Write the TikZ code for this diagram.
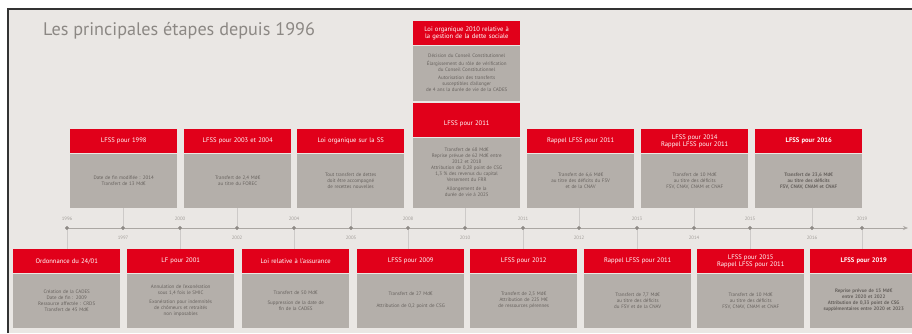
\documentclass[tikz,border=0pt]{standalone}
\usepackage{fontspec}
\setmainfont{PT Sans}
\usetikzlibrary{arrows.meta}
\definecolor{bg}{HTML}{EAE7E4}
\definecolor{cred}{HTML}{E1001A}
\definecolor{cbody}{HTML}{B4AFAA}
\definecolor{ctext}{HTML}{67625E}
\definecolor{cline}{HTML}{ABA7A3}
\definecolor{cdot}{HTML}{8E8A86}
\definecolor{cyear}{HTML}{A29E9A}
\definecolor{ctitle}{HTML}{8C8884}
\newcommand\hfont{\fontsize{6.6}{7.6}\selectfont}
\newcommand\bfont{\fontsize{5}{6}\selectfont}
\newcommand\tlbox[7]{%
  \node[hdr,minimum height=#4pt] (#1h) at (#2,#3) {#6};
  \node[bdy,minimum height=#5pt] (#1b) at (#1h.south west) {#7};}
\begin{document}
\begin{tikzpicture}[x=1pt,y=-1pt,
  hdr/.style={fill=cred,text=white,font=\hfont,align=center,inner sep=1pt,
    minimum width=107pt,text width=104pt,anchor=north west},
  bdy/.style={fill=cbody,text=ctext,font=\bfont,align=center,inner sep=1pt,
    minimum width=107pt,text width=104pt,anchor=north west},
  dotn/.style={circle,fill=cdot,inner sep=0pt,minimum size=3.6pt},
  yr/.style={text=cyear,font=\fontsize{4.8}{5}\selectfont,inner sep=0pt},
  guide/.style={draw=cline!60,line width=0.5pt},
  frame/.style={draw=black!80,line width=1.2pt}]
\useasboundingbox (0,0) rectangle (912,333);
\fill[white] (0,0) rectangle (912,333);
\fill[bg] (8,9) rectangle (912,333);
\draw[frame] (8,333) -- (8,9) -- (912,9);

\node[anchor=west,text=ctitle,font=\fontsize{18.2}{20}\selectfont,inner sep=0pt] (title) at (43,30.5) {Les principales étapes depuis 1996};

% timeline
\foreach \yy/\xx in {1996/67,2000/180,2004/294,2008/408,2011/523,2013/637,2015/750,2019/862}{
  \node[dotn] (d\yy) at (\xx,228) {};
  \coordinate (g\yy) at (\xx,249);
  \node[yr] (l\yy) at (\xx,219) {\yy};
  \draw[guide] (d\yy) -- (g\yy);
}
\foreach \yy/\xx in {1997/123,2002/237,2005/351,2010/465,2012/579,2014/694,2016/812}{
  \node[dotn] (d\yy) at (\xx,228) {};
  \coordinate (g\yy) at (\xx,207);
  \node[yr] (l\yy) at (\xx,237.5) {\yy};
  \draw[guide] (d\yy) -- (g\yy);
}
\coordinate (tlend) at (908,228);
\draw[cline,line width=0.7pt,-{Stealth[length=5pt,width=4pt]}] (d1996.center) -- (tlend);
\foreach \yy in {1996,1997,2000,2002,2004,2005,2008,2010,2011,2012,2013,2014,2015,2016,2019}{
  \fill[cdot] (d\yy) circle (1.8pt);
}

% top row
\tlbox{t1}{70}{129}{24}{54}{LFSS pour 1998}{Date de fin modifiée : 2014\\Transfert de 13 Md€}
\tlbox{t2}{184}{129}{24}{54}{LFSS pour 2003 et 2004}{Transfert de 2,4 Md€\\au titre du FOREC}
\tlbox{t3}{297}{129}{24}{54}{Loi organique sur la SS}{Tout transfert de dettes\\doit être accompagné\\de recettes nouvelles}
\tlbox{t0}{413}{21}{24}{55}{Loi organique 2010 relative à\\la gestion de la dette sociale}{Décision du Conseil Constitutionnel\\[2pt]Élargissement du rôle de vérification\\du Conseil Constitutionnel\\[2pt]Autorisation des transferts\\susceptibles d'allonger\\de 4 ans la durée de vie de la CADES}
\tlbox{t4}{413}{103}{34}{70}{\\[5pt]LFSS pour 2011}{Transfert de 68 Md€\\Reprise prévue de 62 Md€ entre\\2012 et 2018\\Attribution de 0,28 point de CSG\\1,3 \% des revenus du capital\\Versement du FRR\\[3pt]Allongement de la\\durée de vie à 2025}
\tlbox{t5}{527}{129}{24}{54}{Rappel LFSS pour 2011}{Transfert de 6,6 Md€\\au titre des déficits du FSV\\et de la CNAV}
\tlbox{t6}{641}{129}{24}{54}{LFSS pour 2014\\Rappel LFSS pour 2011}{Transfert de 10 Md€\\au titre des déficits\\FSV, CNAV, CNAM et CNAF}
\tlbox{t7}{755}{129}{24}{54}{\textbf{LFSS pour 2016}}{\textbf{Transfert de 23,6 Md€}\\\textbf{au titre des déficits}\\\textbf{FSV, CNAV, CNAM et CNAF}}

% bottom row
\tlbox{b1}{13}{249}{24}{54}{Ordonnance du 24/01}{Création de la CADES\\Date de fin : 2009\\Ressource affectée : CRDS\\Transfert de 45 Md€}
\tlbox{b2}{127}{249}{24}{54}{LF pour 2001}{Annulation de l'exonération\\sous 1,4 fois le SMIC\\[3pt]Exonération pour indemnités\\de chômeurs et retraités\\non imposables}
\tlbox{b3}{242}{249}{24}{54}{Loi relative à l'assurance}{Transfert de 50 Md€\\[4pt]Suppression de la date de\\fin de la CADES}
\tlbox{b4}{357}{249}{24}{54}{LFSS pour 2009}{Transfert de 27 Md€\\[6pt]Attribution de 0,2 point de CSG}
\tlbox{b5}{470}{249}{24}{54}{LFSS pour 2012}{Transfert de 2,5 Md€\\Attribution de 225 M€\\de ressources pérennes}
\tlbox{b6}{584}{249}{24}{54}{Rappel LFSS pour 2011}{Transfert de 7,7 Md€\\au titre des déficits\\du FSV et de la CNAV}
\tlbox{b7}{697}{249}{24}{54}{LFSS pour 2015\\Rappel LFSS pour 2011}{Transfert de 10 Md€\\au titre des déficits\\FSV, CNAV, CNAM et CNAF}
\tlbox{b8}{810}{249}{24}{54}{\textbf{LFSS pour 2019}}{\textbf{Reprise prévue de 15 Md€}\\\textbf{entre 2020 et 2022}\\\textbf{Attribution de 0,33 point de CSG}\\\textbf{supplémentaires entre 2020 et 2023}}
\end{tikzpicture}
\end{document}
